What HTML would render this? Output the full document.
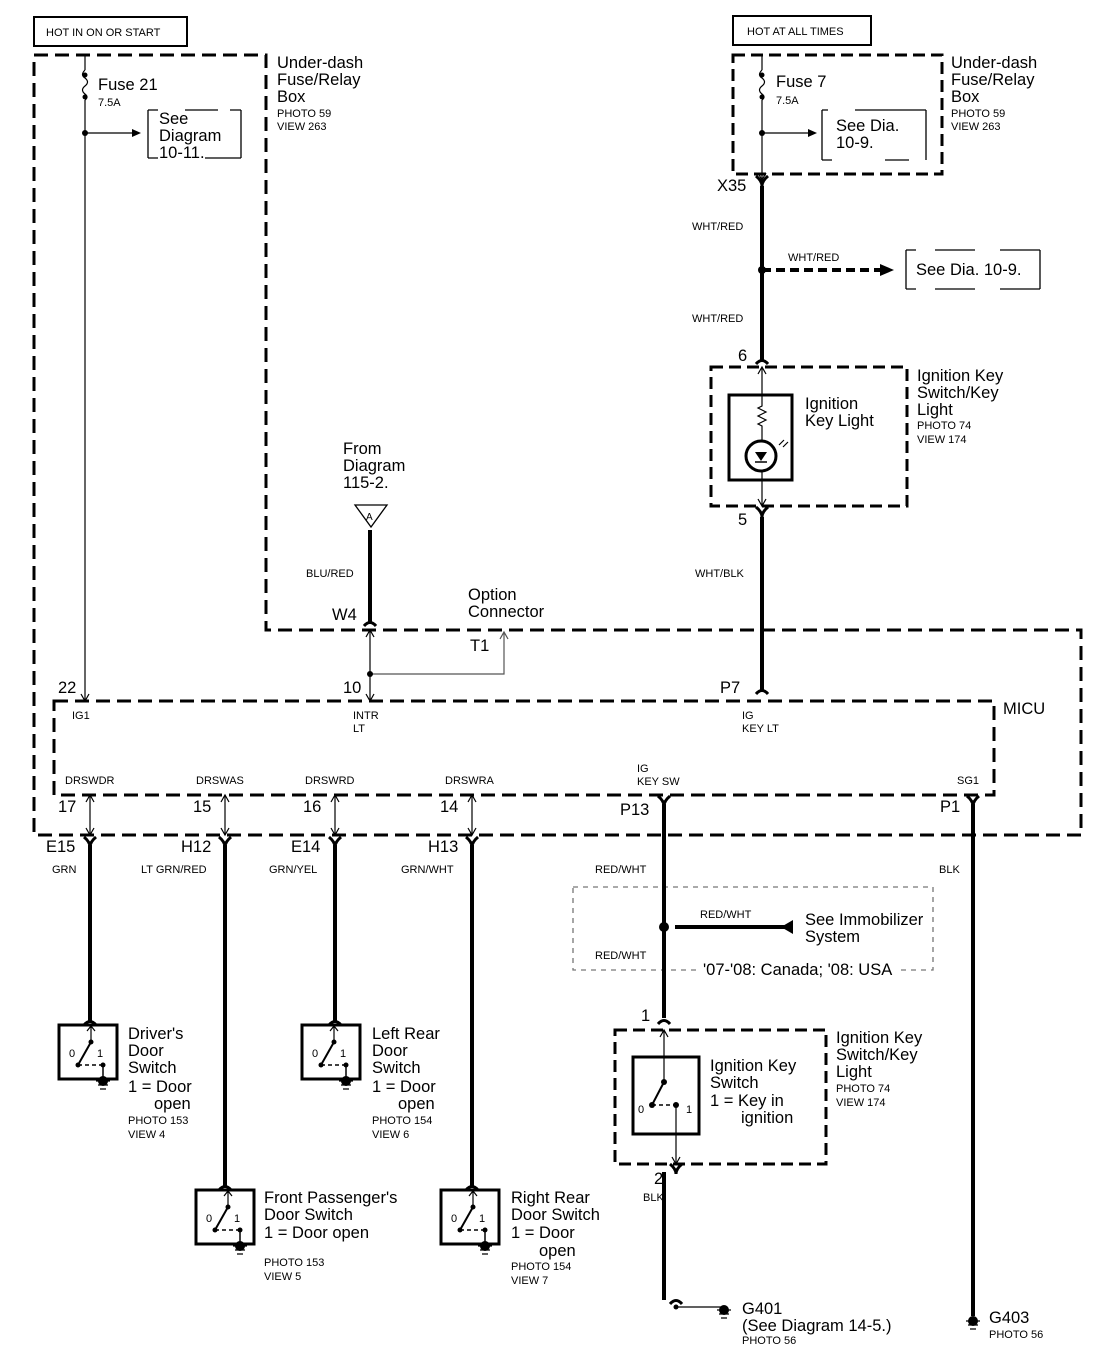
<!DOCTYPE html>
<html><head><meta charset="utf-8"><style>
body{margin:0;background:#fff}
svg{display:block;font-family:"Liberation Sans",Arial,sans-serif}
.s{font-size:11px}.m{font-size:16.5px}
</style></head><body>
<svg width="1120" height="1372" viewBox="0 0 1120 1372" xmlns="http://www.w3.org/2000/svg">
<defs>
<g id="fem"><path d="M-6,-6 Q0,-1 0,4 Q0,-1 6,-6" fill="none" stroke="#000" stroke-width="3"/></g>
<g id="cap"><path d="M-6,4 Q0,-3 6,4" fill="none" stroke="#000" stroke-width="3"/></g>
<g id="gnd"><circle cx="0" cy="0" r="5" fill="#000"/><path d="M-7,0h14M-5,4h10M-3,8h6" stroke="#000" stroke-width="1.3"/></g>
<g id="dsw">
<rect x="0" y="0" width="58" height="54" fill="#fff" stroke="#000" stroke-width="3"/>
<path d="M32,0V17M28,6l4,-5 4,5" fill="none" stroke="#000" stroke-width="1.2"/>
<circle cx="32" cy="17" r="2.5"/><circle cx="19" cy="40" r="2.5"/><circle cx="44" cy="40" r="2.5"/>
<path d="M32,17L19,40" stroke="#000" stroke-width="2"/>
<path d="M19,40H44" stroke="#000" stroke-width="1.5" stroke-dasharray="4,3"/>
<path d="M44,40V54" stroke="#000" stroke-width="1.5"/>
<text x="10" y="32" class="s">0</text><text x="38" y="32" class="s">1</text>
<use href="#gnd" x="44" y="56"/>
</g>
</defs>
<g fill="none" stroke="#000">
<rect x="34" y="17" width="153" height="29" stroke-width="2"/>
<rect x="733" y="16" width="138" height="29" stroke-width="2"/>
<path d="M34,55H266V630H1081V835H34Z" stroke-width="3" stroke-dasharray="14,7"/>
<rect x="54" y="701" width="940" height="94" stroke-width="3" stroke-dasharray="14,7"/>
<rect x="733" y="55" width="209" height="119" stroke-width="3" stroke-dasharray="12,6"/>
<rect x="711" y="367" width="196" height="139" stroke-width="3" stroke-dasharray="12,6"/>
<rect x="615" y="1030" width="211" height="134" stroke-width="3" stroke-dasharray="12,6"/>
<rect x="573" y="887" width="360" height="83" stroke="#777" stroke-width="1.3" stroke-dasharray="5,5"/>
<path d="M148,110v48M241,110v48M148,110h10M185,110h33M230,110h11M148,158h10M205,158h36" stroke-width="1.3"/>
<path d="M822,110v50M926,110v50M822,110h6M855,110h71M822,160h10M885,160h24" stroke-width="1.3"/>
<path d="M906,250v39M1040,250v39M906,250h10M935,250h40M1000,250h40M906,289h10M935,289h40M1000,289h40" stroke-width="1.3"/>
<path d="M85,55V70M85,100V701M81,694l4,7 4,-7" stroke-width="1.2"/>
<path d="M85,70q-5,5 0,8q5,4 0,8q-5,4 0,8q4,3 0,6" stroke-width="1.2"/>
<path d="M85,133H132" stroke-width="1.2"/>
<path d="M762,55V70M762,100V180M758,173l4,7 4,-7" stroke-width="1.2"/>
<path d="M762,70q-5,5 0,8q5,4 0,8q-5,4 0,8q4,3 0,6" stroke-width="1.2"/>
<path d="M762,133H808" stroke-width="1.2"/>
<path d="M762,186V362M762,517V692M370,530V622M90,845V1022M225,845V1187M335,845V1022M472,845V1187M664,804V1018M664,1172V1300M973,804V1316" stroke-width="4"/>
<path d="M762,270H880" stroke-width="4" stroke-dasharray="9,5"/>
<path d="M675,927H785" stroke-width="4"/>
<rect x="729" y="395" width="63" height="85" stroke-width="3"/>
<path d="M762,367V406l-4,2 8,4-8,4 8,4-8,4 4,2V441M762,471V506M758,374l4,-7 4,7M758,499l4,7 4,-7" stroke-width="1.2"/>
<circle cx="761" cy="456" r="15" stroke-width="3"/>
<path d="M779,445l5,-5M783,447l5,-5" stroke-width="1.2"/>
<path d="M370,630V701M366,637l4,-7 4,7M366,694l4,7 4,-7" stroke-width="1.2"/>
<path d="M370,674H504V632M500,639l4,-7 4,7" stroke="#555" stroke-width="1.2"/>
<path d="M355,505H387L371,527Z" stroke-width="1.3"/>
<path d="M90,795V835M225,795V835M335,795V835M472,795V835" stroke-width="1.2"/>
<path d="M86,802l4,-7 4,7M86,828l4,7 4,-7M221,802l4,-7 4,7M221,828l4,7 4,-7M331,802l4,-7 4,7M331,828l4,7 4,-7M468,802l4,-7 4,7M468,828l4,7 4,-7" stroke-width="1.2"/>
<rect x="633" y="1057" width="66" height="77" stroke-width="3"/>
<path d="M664,1030V1082M660,1037l4,-7 4,7M676,1105V1164M672,1157l4,7 4,-7" stroke-width="1.2"/>
<path d="M664,1082L652,1105" stroke-width="2"/>
<path d="M652,1105H676" stroke-width="1.5" stroke-dasharray="4,3"/>
<path d="M676,1307H722" stroke-width="1.2"/>
</g>
<rect x="700" y="960" width="196" height="20" fill="#fff"/>
<g fill="#000">
<circle cx="85" cy="75" r="2.5"/><circle cx="85" cy="97" r="2.5"/><circle cx="85" cy="133" r="3"/>
<circle cx="762" cy="75" r="2.5"/><circle cx="762" cy="97" r="2.5"/><circle cx="762" cy="133" r="3"/>
<path d="M132,129l9,4-9,4Z"/><path d="M808,129l9,4-9,4Z"/>
<path d="M880,264l14,6-14,6Z"/>
<circle cx="762" cy="270" r="4"/>
<circle cx="370" cy="674" r="3"/>
<circle cx="664" cy="927" r="5"/>
<path d="M793,920l-12,7 12,7Z"/>
<path d="M755,452h12l-6,9Z"/><path d="M755,462h12" stroke="#000" stroke-width="1.5"/>
<circle cx="652" cy="1105" r="3"/><circle cx="664" cy="1082" r="3"/><circle cx="676" cy="1105" r="3"/>
<circle cx="676" cy="1307" r="2.5"/>
</g>
<use href="#fem" x="762" y="182"/><use href="#cap" x="762" y="360"/><use href="#fem" x="762" y="513"/><use href="#cap" x="762" y="690"/>
<use href="#cap" x="370" y="622"/>
<use href="#fem" x="90" y="843"/><use href="#fem" x="225" y="843"/><use href="#fem" x="335" y="843"/><use href="#fem" x="472" y="843"/>
<use href="#fem" x="664" y="802"/><use href="#fem" x="973" y="802"/>
<use href="#cap" x="90" y="1021"/><use href="#cap" x="335" y="1021"/><use href="#cap" x="225" y="1186"/><use href="#cap" x="472" y="1186"/>
<use href="#cap" x="664" y="1020"/><use href="#fem" x="676" y="1170"/><use href="#cap" x="676" y="1300"/>
<use href="#gnd" x="724" y="1310"/><use href="#gnd" x="973" y="1321"/>
<use href="#dsw" x="59" y="1025"/><use href="#dsw" x="302" y="1025"/>
<use href="#dsw" x="196" y="1190"/><use href="#dsw" x="441" y="1190"/>
<g class="s">
<text x="46" y="36">HOT IN ON OR START</text><text x="747" y="35">HOT AT ALL TIMES</text>
<text x="98" y="106">7.5A</text><text x="776" y="104">7.5A</text>
<text x="277" y="117">PHOTO 59</text><text x="277" y="130">VIEW 263</text>
<text x="951" y="117">PHOTO 59</text><text x="951" y="130">VIEW 263</text>
<text x="692" y="230">WHT/RED</text><text x="788" y="261">WHT/RED</text><text x="692" y="322">WHT/RED</text>
<text x="917" y="429">PHOTO 74</text><text x="917" y="443">VIEW 174</text>
<text x="306" y="577">BLU/RED</text><text x="695" y="577">WHT/BLK</text>
<text x="366" y="520" font-size="10">A</text>
<text x="72" y="719">IG1</text><text x="353" y="719">INTR</text><text x="353" y="732">LT</text>
<text x="742" y="719">IG</text><text x="742" y="732">KEY LT</text>
<text x="65" y="784">DRSWDR</text><text x="196" y="784">DRSWAS</text><text x="305" y="784">DRSWRD</text><text x="445" y="784">DRSWRA</text>
<text x="637" y="772">IG</text><text x="637" y="785">KEY SW</text><text x="957" y="784">SG1</text>
<text x="52" y="873">GRN</text><text x="141" y="873">LT GRN/RED</text><text x="269" y="873">GRN/YEL</text><text x="401" y="873">GRN/WHT</text>
<text x="595" y="873">RED/WHT</text><text x="939" y="873">BLK</text>
<text x="700" y="918">RED/WHT</text><text x="595" y="959">RED/WHT</text>
<text x="128" y="1124">PHOTO 153</text><text x="128" y="1138">VIEW 4</text>
<text x="372" y="1124">PHOTO 154</text><text x="372" y="1138">VIEW 6</text>
<text x="264" y="1266">PHOTO 153</text><text x="264" y="1280">VIEW 5</text>
<text x="511" y="1270">PHOTO 154</text><text x="511" y="1284">VIEW 7</text>
<text x="836" y="1092">PHOTO 74</text><text x="836" y="1106">VIEW 174</text>
<text x="643" y="1201">BLK</text>
<text x="742" y="1344">PHOTO 56</text><text x="989" y="1338">PHOTO 56</text>
</g>
<g class="m">
<text x="98" y="90">Fuse 21</text><text x="776" y="87">Fuse 7</text>
<text x="159" y="124">See</text><text x="159" y="141">Diagram</text><text x="159" y="158">10-11.</text>
<text x="836" y="131">See Dia.</text><text x="836" y="148">10-9.</text>
<text x="277" y="68">Under-dash</text><text x="277" y="85">Fuse/Relay</text><text x="277" y="102">Box</text>
<text x="951" y="68">Under-dash</text><text x="951" y="85">Fuse/Relay</text><text x="951" y="102">Box</text>
<text x="717" y="191">X35</text><text x="916" y="275">See Dia. 10-9.</text>
<text x="738" y="361">6</text><text x="738" y="525">5</text>
<text x="917" y="381">Ignition Key</text><text x="917" y="398">Switch/Key</text><text x="917" y="415">Light</text>
<text x="805" y="409">Ignition</text><text x="805" y="426">Key Light</text>
<text x="343" y="454">From</text><text x="343" y="471">Diagram</text><text x="343" y="488">115-2.</text>
<text x="468" y="600">Option</text><text x="468" y="617">Connector</text>
<text x="332" y="620">W4</text><text x="470" y="651">T1</text>
<text x="58" y="693">22</text><text x="343" y="693">10</text><text x="720" y="693">P7</text><text x="1003" y="714">MICU</text>
<text x="58" y="812">17</text><text x="193" y="812">15</text><text x="303" y="812">16</text><text x="440" y="812">14</text>
<text x="620" y="815">P13</text><text x="940" y="812">P1</text>
<text x="46" y="852">E15</text><text x="181" y="852">H12</text><text x="291" y="852">E14</text><text x="428" y="852">H13</text>
<text x="805" y="925">See Immobilizer</text><text x="805" y="942">System</text>
<text x="703" y="975">'07-'08: Canada; '08: USA</text>
<text x="641" y="1021">1</text><text x="654" y="1184">2</text>
<text x="128" y="1039">Driver's</text><text x="128" y="1056">Door</text><text x="128" y="1073">Switch</text><text x="128" y="1092">1 = Door</text><text x="154" y="1109">open</text>
<text x="372" y="1039">Left Rear</text><text x="372" y="1056">Door</text><text x="372" y="1073">Switch</text><text x="372" y="1092">1 = Door</text><text x="398" y="1109">open</text>
<text x="264" y="1203">Front Passenger's</text><text x="264" y="1220">Door Switch</text><text x="264" y="1238">1 = Door open</text>
<text x="511" y="1203">Right Rear</text><text x="511" y="1220">Door Switch</text><text x="511" y="1238">1 = Door</text><text x="539" y="1256">open</text>
<text x="710" y="1071">Ignition Key</text><text x="710" y="1088">Switch</text><text x="710" y="1106">1 =  Key in</text><text x="741" y="1123">ignition</text>
<text x="836" y="1043">Ignition Key</text><text x="836" y="1060">Switch/Key</text><text x="836" y="1077">Light</text>
<text x="742" y="1314">G401</text><text x="742" y="1331">(See Diagram 14-5.)</text>
<text x="989" y="1323">G403</text>
</g>
<g font-size="11"><text x="638" y="1113">0</text><text x="686" y="1113">1</text></g>
</svg>
</body></html>
